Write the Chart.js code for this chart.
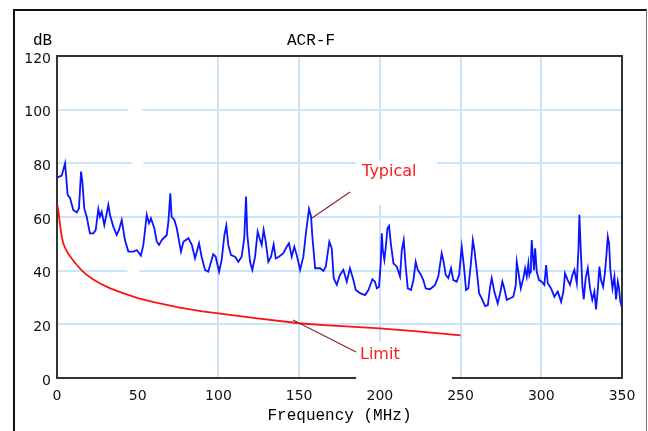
<!DOCTYPE html>
<html>
<head>
<meta charset="utf-8">
<script src="https://cdn.jsdelivr.net/npm/chart.js@4.4.0/dist/chart.umd.min.js"></script>
<style>
  html, body { margin: 0; padding: 0; background: #fff; }
  #wrap { position: relative; width: 648px; height: 431px; overflow: hidden; }
  #frame {
    position: absolute; left: 13px; top: 9px; width: 631px; height: 440px;
    border-left: 2px solid #111; border-top: 2px solid #111; border-right: 1px solid #777;
  }
  #chart { position: absolute; left: 0; top: 0; }
</style>
</head>
<body>
<div id="wrap">
  <div id="frame"></div>
  <canvas id="chart" width="648" height="431"></canvas>
</div>
<script>
const typicalFreq = [
  0, 2.9, 3.9, 5, 5.6, 6.6, 8, 10.1, 12.2, 13.6, 14.9, 15.7, 16.9, 18.4, 20.4, 22.5, 24, 25.6, 26.6, 27.7,
  29.3, 30.8, 31.8, 32.8, 34.9, 37, 38.4, 40.1, 42.1, 44.2, 47.3, 49.4, 52, 53.5, 55.6, 57, 58.2, 60.3, 61.8, 63.2,
  64.9, 68, 69, 70.2, 71, 72.7, 74.2, 76.8, 78.3, 81.4, 83.5, 85.5, 88, 89.6, 91.7, 93.7, 96.8, 98.3, 100.4, 102,
  103.7, 104.9, 106.1, 107.8, 110.3, 112.3, 114.4, 116, 117.1, 117.9, 119.6, 121, 122.7, 124.3, 125.8, 126.8, 128, 129.3, 130.9, 132.6,
  134.2, 135.5, 137.5, 140.2, 142.3, 143.7, 145.4, 147, 148.5, 150.6, 152.6, 154.3, 156.1, 157.4, 158.2, 159.9, 163, 165, 166.5, 168.7,
  170.2, 171.4, 173.3, 175.3, 177.4, 179.5, 181.5, 183.6, 185.1, 187.7, 190.8, 192.9, 195.4, 197, 198.1, 199.5, 200.6, 201.2, 201.8, 202.8,
  203.7, 204.7, 205.7, 206.8, 208.4, 210.5, 212.5, 213.6, 214.8, 216, 217.3, 219.3, 220.8, 222.2, 223.5, 225.5, 226.9, 228.4, 231.1, 234.2,
  236.2, 238.3, 239.3, 240.8, 242.4, 244.1, 245.5, 247.6, 249.1, 250.7, 252, 253.4, 254.8, 256.5, 257.6, 258.6, 260, 261.5, 263.1, 265.2,
  266.9, 268.3, 269.3, 270.9, 273, 274.5, 275.9, 277.1, 278.6, 280.7, 282.7, 284.2, 284.8, 285.8, 287.3, 288.9, 290, 291, 292, 292.6,
  293.1, 293.6, 294.1, 294.9, 295.5, 296.2, 297.2, 298.6, 300.3, 301.9, 303, 304, 306.1, 308.1, 310.2, 312.3, 313.7, 314.7, 316.4, 317.8,
  319.3, 320.5, 322, 323, 323.6, 324.5, 325.5, 326.3, 327.5, 328.8, 330.2, 331.6, 332.9, 333.9, 335, 336, 337, 338.3, 339.5, 340.6,
  341.2, 342, 342.8, 344.1, 345.3, 346.3, 347.4, 348.2, 348.8, 349.3
]
const typicalDb = [
  74.7, 75.4, 77.5, 80, 75.7, 68.2, 67.2, 62.6, 61.7, 63.2, 76.9, 73.2, 63.2, 60.1, 53.9, 53.9, 55.2, 63, 60.1, 62,
  57, 61.4, 64.5, 60.8, 56.4, 53.3, 55.2, 58.9, 51.4, 47.1, 47.1, 47.7, 45.6, 49.6, 60.8, 57.7, 59.5, 55.8, 50.8, 49.6,
  51.4, 53.3, 58.3, 68.8, 60.1, 58.9, 55.8, 47.1, 50.8, 52.1, 49.6, 44.6, 50.2, 45.2, 40.3, 39.6, 46.1, 45.2, 39.6, 44,
  53.3, 56.8, 49.6, 45.8, 45.2, 43.3, 45.2, 52.1, 67.6, 53.3, 43.3, 40.3, 45.2, 54.5, 51.4, 49.6, 55.2, 50.8, 43.3, 45.2,
  49.8, 44.6, 45.2, 46.5, 48.9, 50.2, 45.2, 48.9, 45.8, 40.3, 45.2, 54.5, 63, 60.1, 52.7, 40.9, 40.9, 39.9, 41.5, 50.8,
  48.3, 37.2, 34.7, 38.4, 40.3, 35.9, 40.9, 36.5, 32.8, 31.6, 30.9, 32.8, 36.8, 35.9, 33.4, 34, 43.3, 53.9, 47.7, 44,
  48.9, 55.8, 56.7, 50.2, 42.7, 41.5, 37.8, 47.7, 51.4, 41.5, 33.4, 32.8, 36.5, 43.3, 40.3, 38.4, 36.5, 33.4, 33.1, 34.7,
  37.8, 46.5, 44, 38.4, 37.2, 40.9, 36.5, 35.9, 38.4, 48.9, 42.1, 32.8, 33.4, 43.3, 51.4, 47.7, 40.3, 31.5, 29.7, 26.8,
  27.2, 34, 37.2, 32.2, 27.8, 31.6, 35.9, 33.4, 29.1, 29.7, 30.3, 34.7, 43.3, 39.6, 33.4, 37.2, 40.9, 37.8, 42.7, 38.5,
  39.6, 44.2, 51.4, 44.6, 40.2, 48.3, 39.6, 36.5, 35.9, 34.7, 42.1, 35.3, 33.4, 30.3, 32.2, 28.4, 32.2, 39, 36.5, 34.7,
  38.4, 40.3, 35.3, 47.7, 60.8, 47.1, 34, 29.3, 37.2, 40.9, 33.4, 29.1, 32.2, 25.6, 32.8, 41.5, 36.5, 34, 39.6, 47.7,
  52.7, 50.2, 40.3, 33.4, 37.8, 29.3, 35.9, 33.4, 29.1, 27.8
]
const limitFreq = [0.3, 1, 2, 3, 4, 5, 7, 9, 12, 15, 18, 22, 27, 33, 40, 50, 60, 76, 90, 100, 124, 150, 163, 200, 225, 250]
const limitDb = [64.3, 61.5, 56.5, 52.5, 50, 48.5, 46.3, 44.6, 42.3, 40.3, 38.6, 36.9, 35.1, 33.4, 31.8, 29.8, 28.3, 26.2, 24.8, 24.1, 22.2, 20.4, 19.8, 18.5, 17.3, 15.9]

const xTicks = [0, 50, 100, 150, 200, 250, 300, 350]
const yTicks = [0, 20, 40, 60, 80, 100, 120]

const gridColor = 'rgb(204, 228, 250)'
const tickFont = { family: 'DejaVu Sans', size: 14 }
const monoFont = { family: 'Liberation Mono', size: 16, weight: 'normal' }

function toPoints(xs, ys) {
  return xs.map((x, i) => ({ x, y: ys[i] }))
}

// white patch in data units (label backgrounds and small gaps in the grid)
function blank(ctx, x, y, x0, x1, y0, y1) {
  const l = x.getPixelForValue(x0)
  const r = x.getPixelForValue(x1)
  const t = y.getPixelForValue(y1)
  const b = y.getPixelForValue(y0)
  ctx.fillRect(l, t, r - l, b - t)
}

// box around the plot, axis unit and the two callouts
const notes = {
  id: 'notes',
  beforeDatasetsDraw(chart) {
    const { ctx, chartArea: a, scales: { x, y } } = chart
    ctx.save()
    ctx.strokeStyle = '#333'
    ctx.lineWidth = 2
    ctx.strokeRect(a.left, a.top, a.right - a.left, a.bottom - a.top)
    ctx.fillStyle = '#fff'
    blank(ctx, x, y, 185.3, 235.4, 64.5, 80.9)
    blank(ctx, x, y, 185.3, 244.7, -1, 13.4)
    blank(ctx, x, y, 44.2, 52.8, 98.5, 101.5)
    blank(ctx, x, y, 46.7, 53.5, 78.5, 81.5)
    blank(ctx, x, y, 43.6, 51, 38.5, 41.5)
    ctx.restore()
  },
  afterDatasetsDraw(chart) {
    const { ctx, chartArea: a, scales: { x, y } } = chart
    ctx.save()
    ctx.fillStyle = '#000'
    ctx.font = '16px "Liberation Mono"'
    ctx.textAlign = 'left'
    ctx.textBaseline = 'middle'
    ctx.fillText('dB', a.left - 24, a.top - 15)

    ctx.strokeStyle = '#8b2a2a'
    ctx.lineWidth = 1.2
    ctx.beginPath()
    ctx.moveTo(x.getPixelForValue(181.5), y.getPixelForValue(69.3))
    ctx.lineTo(x.getPixelForValue(158), y.getPixelForValue(59.6))
    ctx.moveTo(x.getPixelForValue(146.2), y.getPixelForValue(21.6))
    ctx.lineTo(x.getPixelForValue(185.3), y.getPixelForValue(9.7))
    ctx.stroke()

    ctx.fillStyle = '#ff1a1a'
    ctx.font = '16px "DejaVu Sans"'
    ctx.fillText('Typical', x.getPixelForValue(189), y.getPixelForValue(76.8))
    ctx.fillText('Limit', x.getPixelForValue(187.7), y.getPixelForValue(8.6))
    ctx.restore()
  },
}

new Chart(document.getElementById('chart'), {
  type: 'line',
  data: {
    datasets: [
      {
        label: 'Typical',
        data: toPoints(typicalFreq, typicalDb),
        borderColor: '#0a14ff',
        borderWidth: 1.8,
        pointRadius: 0,
        tension: 0,
      },
      {
        label: 'Limit',
        data: toPoints(limitFreq, limitDb),
        borderColor: '#ff1010',
        borderWidth: 1.8,
        pointRadius: 0,
        tension: 0,
      },
    ],
  },
  options: {
    responsive: false,
    animation: false,
    devicePixelRatio: 1,
    layout: { padding: { top: 0, right: 26, bottom: 0, left: 0 } },
    plugins: {
      legend: { display: false },
      tooltip: { enabled: false },
      title: {
        display: true,
        text: 'ACR-F',
        color: '#000',
        font: monoFont,
        padding: { top: 31, bottom: 5.8 },
      },
    },
    scales: {
      x: {
        type: 'linear',
        min: 0,
        max: 350,
        afterBuildTicks: (scale) => { scale.ticks = xTicks.map(v => ({ value: v })) },
        afterFit: (scale) => { scale.height = 53 },
        ticks: { color: '#111', font: tickFont, padding: 10 },
        // the 50 MHz grid line is missing in the original
        grid: {
          color: (c) => (c.tick && c.tick.value === 50 ? 'rgba(0,0,0,0)' : gridColor),
          lineWidth: 2,
          drawTicks: false,
        },
        border: { display: false },
        title: {
          display: true,
          text: 'Frequency (MHz)',
          color: '#000',
          font: monoFont,
          padding: { top: 0, bottom: 5.4 },
        },
      },
      y: {
        min: 0,
        max: 120,
        afterBuildTicks: (scale) => { scale.ticks = yTicks.map(v => ({ value: v })) },
        afterFit: (scale) => { scale.width = 57 },
        ticks: { color: '#111', font: tickFont, padding: 6, labelOffset: 3 },
        grid: { color: gridColor, lineWidth: 2, drawTicks: false },
        border: { display: false },
      },
    },
  },
  plugins: [notes],
})
</script>
</body>
</html>
